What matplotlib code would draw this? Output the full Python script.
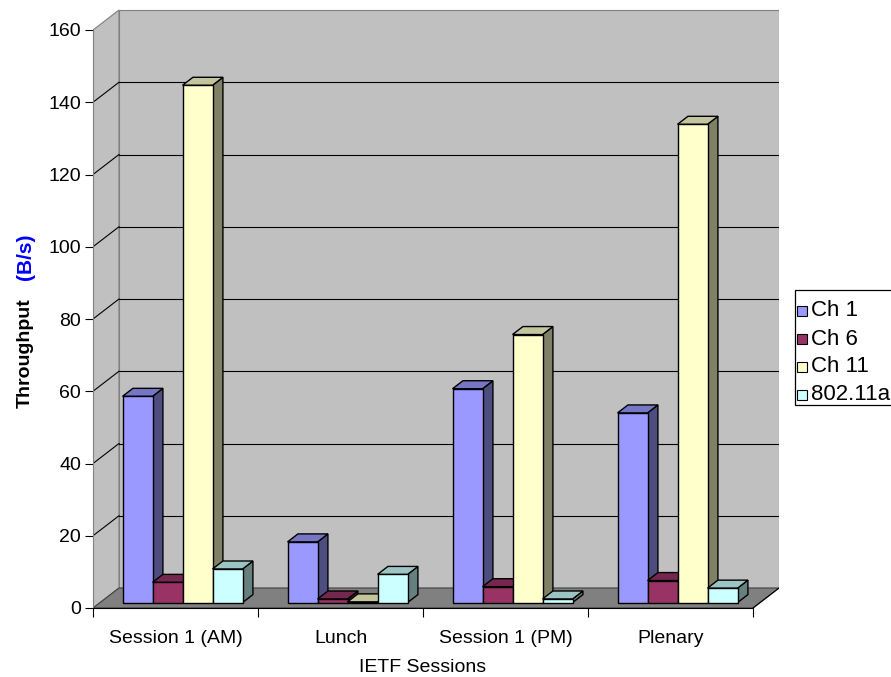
import matplotlib
matplotlib.use("Agg")
import matplotlib.pyplot as plt
from matplotlib.patches import Polygon, Rectangle

plt.rcParams["font.family"] = ["Liberation Sans", "DejaVu Sans"]

# ---- data -------------------------------------------------------------
sessions = ["Session 1 (AM)", "Lunch", "Session 1 (PM)", "Plenary"]
series_names = ["Ch 1", "Ch 6", "Ch 11", "802.11a"]
ch1 = [57.1, 16.8, 59.2, 52.5]
ch6 = [5.6, 1.0, 4.4, 6.1]
ch11 = [143.2, 0.2, 74.2, 132.4]
ch80211a = [9.3, 7.8, 1.0, 4.0]
yticks = [0, 20, 40, 60, 80, 100, 120, 140, 160]

front_colors = ["#9999FF", "#993366", "#FFFFCC", "#CCFFFF"]


def shade(hex_color, k):
    r, g, b = (int(hex_color[i:i + 2], 16) for i in (1, 3, 5))
    return (r * k / 255, g * k / 255, b * k / 255)


# ---- figure / axes ----------------------------------------------------
W_PX, H_PX = 891, 677
fig = plt.figure(figsize=(W_PX / 100, H_PX / 100), dpi=100)
fig.patch.set_facecolor("white")

cat_px = 165.0            # width of one category on the front plane
unit_px = 578.0 / 160.0   # pixels per value unit
depth_px = (26.0, 20.0)   # oblique depth of the plot box

ax = fig.add_axes([93 / W_PX, (H_PX - 608) / H_PX,
                   (4 * cat_px + depth_px[0]) / W_PX, (608 - 9) / H_PX])
ax.set_xlim(0, 4 + depth_px[0] / cat_px)
ax.set_ylim(0, (608 - 9) / unit_px)
ax.patch.set_visible(False)

DX = depth_px[0] / cat_px
DY = depth_px[1] / unit_px
YMAX = yticks[-1]
NCAT = len(sessions)

# walls and floor
side_wall = Polygon([(0, 0), (DX, DY), (DX, YMAX + DY), (0, YMAX)],
                    closed=True, facecolor="#C0C0C0", edgecolor="#808080",
                    lw=0.8, zorder=0)
back_wall = Polygon([(DX, DY), (NCAT + DX, DY), (NCAT + DX, YMAX + DY), (DX, YMAX + DY)],
                    closed=True, facecolor="#C0C0C0", edgecolor="#808080",
                    lw=0.8, zorder=0)
floor = Polygon([(0, 0), (NCAT, 0), (NCAT + DX, DY), (DX, DY)],
                closed=True, facecolor="#808080", edgecolor="#404040",
                lw=0.8, zorder=1)
for p in (side_wall, back_wall, floor):
    ax.add_patch(p)
ax.plot([NCAT, NCAT + DX], [0, DY], color="black", lw=0.8, zorder=1.5)

# gridlines on the back and side walls
for v in yticks[1:-1]:
    ax.plot([DX, NCAT + DX], [v + DY, v + DY], color="black", lw=0.8, zorder=0.5)
    ax.plot([0, DX], [v, v + DY], color="black", lw=0.8, zorder=0.5)

# ---- 3D columns -------------------------------------------------------
series = [ch1, ch6, ch11, ch80211a]
nser = len(series)
bw = 1.0 / (nser + 1.5)          # 150% gap width
f0 = 0.27                        # front of the columns within the depth
bd = 0.40                        # column depth as a share of the box depth
bdx, bdy = bd * DX, bd * DY

for i in range(NCAT):
    for j in range(nser):
        v = series[j][i]
        c = front_colors[j]
        x0 = i + 0.75 * bw + j * bw + f0 * DX
        y0 = f0 * DY
        top = y0 + v
        z = 3 + i * 0.1 + j * 0.01
        front = Polygon([(x0, y0), (x0 + bw, y0), (x0 + bw, top), (x0, top)],
                        closed=True, facecolor=c, edgecolor="black", lw=1.0, zorder=z)
        side = Polygon([(x0 + bw, y0), (x0 + bw + bdx, y0 + bdy),
                        (x0 + bw + bdx, top + bdy), (x0 + bw, top)],
                       closed=True, facecolor=shade(c, 0.5), edgecolor="black",
                       lw=1.0, zorder=z)
        topf = Polygon([(x0, top), (x0 + bw, top), (x0 + bw + bdx, top + bdy),
                        (x0 + bdx, top + bdy)],
                       closed=True, facecolor=shade(c, 0.77), edgecolor="black",
                       lw=1.0, zorder=z)
        for p in (side, topf, front):
            ax.add_patch(p)

# ---- axes, ticks, labels ----------------------------------------------
for s in ("top", "right"):
    ax.spines[s].set_visible(False)
ax.spines["left"].set_bounds(0, YMAX)
ax.spines["left"].set_color("#808080")
ax.spines["bottom"].set_bounds(0, NCAT)
ax.spines["bottom"].set_color("black")
ax.spines["left"].set_zorder(2)
ax.spines["bottom"].set_zorder(2)

ax.set_yticks(yticks)
ax.set_yticklabels([str(t) for t in yticks])
ax.tick_params(axis="y", direction="out", length=6, width=0.8, color="black",
               pad=2.5, labelsize=14)

ax.set_xticks(range(NCAT + 1))
ax.set_xticklabels([""] * (NCAT + 1))
ax.set_xticks([i + 0.5 for i in range(NCAT)], minor=True)
ax.set_xticklabels(sessions, minor=True)
ax.tick_params(axis="x", which="major", direction="out", length=6.5, width=0.8,
               color="black")
ax.tick_params(axis="x", which="minor", length=0, pad=16, labelsize=14)


def fx(px):
    return px / W_PX


def fy(py):
    return 1 - py / H_PX


fig.text(fx(423), fy(667), "IETF Sessions", ha="center", va="center", fontsize=14)
fig.text(fx(25), fy(298), "Throughput", rotation=90, ha="center", va="top",
         fontsize=14, fontweight="bold", color="black")
fig.text(fx(25), fy(257), "(B/s)", rotation=90, ha="center", va="center",
         fontsize=15, fontweight="bold", color="#0000FF")

# ---- legend -------------------------------------------------------------
fig.add_artist(Rectangle((fx(795), fy(405)), fx(895) - fx(795), fy(290) - fy(405),
                         transform=fig.transFigure, facecolor="white",
                         edgecolor="black", lw=0.9))
entry_y = [311, 339, 367, 395]
for name, c, ey in zip(series_names, front_colors, entry_y):
    fig.add_artist(Rectangle((fx(797), fy(ey + 5)), fx(10), fy(ey - 5) - fy(ey + 5),
                             transform=fig.transFigure, facecolor=c,
                             edgecolor="black", lw=0.8))
    fig.text(fx(811), fy(ey), name, ha="left", va="center", fontsize=16)

fig.savefig("out.png", dpi=100)
